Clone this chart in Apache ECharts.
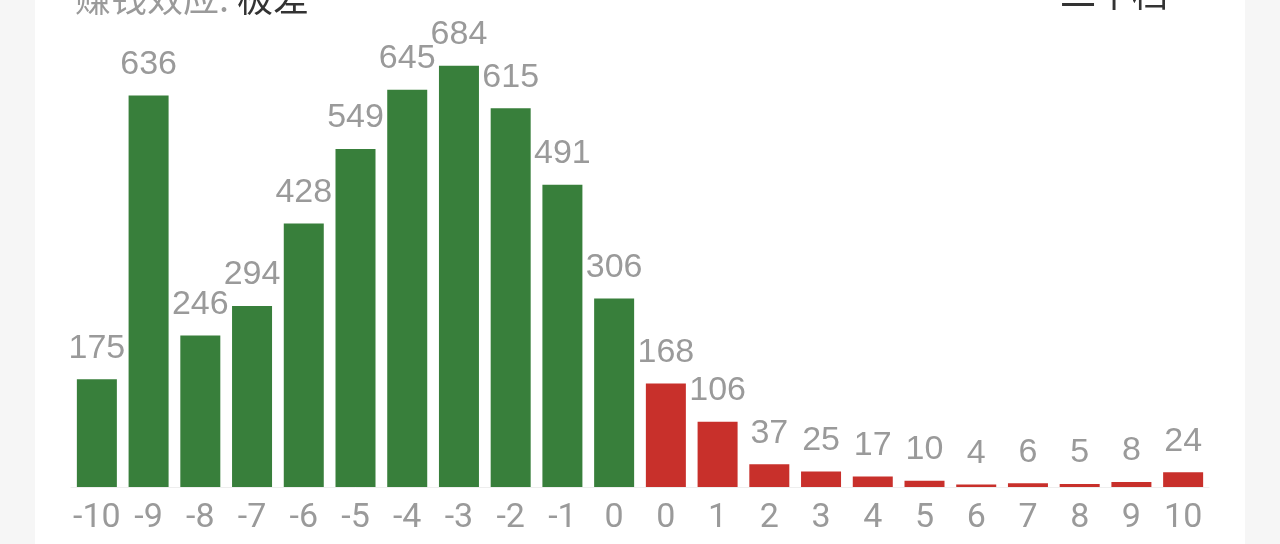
<!DOCTYPE html>
<html>
<head>
<meta charset="utf-8">
<script src="https://cdn.jsdelivr.net/npm/echarts@6/dist/echarts.min.js"></script>
<style>
  html, body { margin: 0; padding: 0; background: #f6f6f6; }
  #chart { width: 1280px; height: 544px; }
</style>
</head>
<body>
<div id="chart"></div>
<script>
// 涨跌幅档位
const categories = ['-10', '-9', '-8', '-7', '-6', '-5', '-4', '-3', '-2', '-1', '0',
                    '0', '1', '2', '3', '4', '5', '6', '7', '8', '9', '10'];
// 下跌家数 (绿) / 上涨家数 (红)
const downValues = [175, 636, 246, 294, 428, 549, 645, 684, 615, 491, 306];
const upValues = [168, 106, 37, 25, 17, 10, 4, 6, 5, 8, 24];

const green = '#387f3b';
const red = '#c8302b';

var dom = document.getElementById('chart');
var myChart = echarts.init(dom);

var option = {
    animation: false,
    backgroundColor: 'transparent',
    title: {
        left: 70,
        top: -25,
        text: '{a|赚钱效应: }{b|极差}',
        textStyle: {
            fontWeight: 'normal',
            rich: {
                a: { fontSize: 36, color: '#9a9a9a', fontWeight: 'normal', fontFamily: 'Noto Sans CJK SC' },
                b: { fontSize: 36, color: '#333333', fontWeight: 'normal', fontFamily: 'Noto Sans CJK SC' }
            }
        }
    },
    graphic: [
        {
            type: 'rect',
            z: -10,
            silent: true,
            shape: { x: 35, y: 0, width: 1210, height: 544 },
            style: { fill: '#ffffff' }
        },
        {
            type: 'text',
            right: 112,
            top: -25,
            style: {
                text: '二十档',
                fontSize: 36,
                fill: '#333333',
                fontFamily: 'Noto Sans CJK SC'
            }
        }
    ],
    grid: {
        left: 71,
        right: 71,
        top: 56,
        bottom: 57
    },
    xAxis: {
        type: 'category',
        data: categories,
        axisLine: { lineStyle: { color: '#eeeeee', width: 1 } },
        axisTick: { show: false },
        axisLabel: {
            interval: 0,
            margin: 14,
            color: '#9a9a9a',
            fontSize: 34,
            fontFamily: 'Roboto'
        }
    },
    yAxis: {
        type: 'value',
        min: 0,
        max: 700,
        show: false,
        splitLine: { show: false }
    },
    series: [
        {
            type: 'bar',
            barWidth: 40,
            data: downValues.concat(upValues),
            itemStyle: {
                color: function (p) {
                    return p.dataIndex < downValues.length ? green : red;
                }
            },
            label: {
                show: true,
                position: 'top',
                distance: 14,
                color: '#9a9a9a',
                fontSize: 34,
                fontFamily: 'Liberation Sans'
            }
        }
    ]
};

myChart.setOption(option);
</script>
</body>
</html>
